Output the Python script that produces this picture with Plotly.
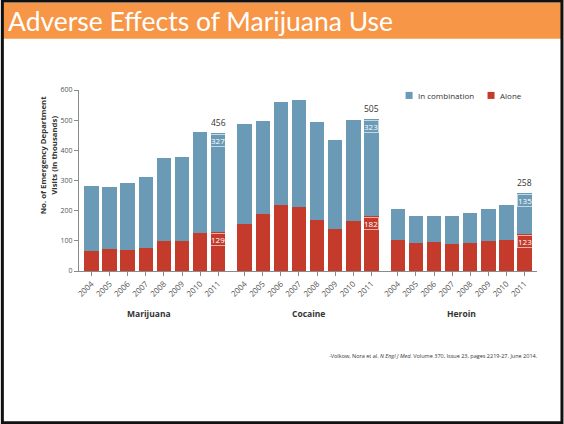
import plotly.graph_objects as go

# ---- data ----
groups = ["Marijuana", "Cocaine", "Heroin"]
years = ["2004", "2005", "2006", "2007", "2008", "2009", "2010", "2011"]
alone_marijuana = [66, 72, 68, 77, 101, 100, 127, 129]
comb_marijuana = [216, 208, 224, 233, 274, 278, 335, 327]
alone_cocaine = [157, 189, 219, 213, 168, 140, 166, 182]
comb_cocaine = [330, 307, 342, 354, 325, 293, 334, 323]
alone_heroin = [103, 94, 97, 89, 93, 98, 103, 123]
comb_heroin = [104, 87, 86, 92, 100, 108, 115, 135]

alone = [alone_marijuana, alone_cocaine, alone_heroin]
comb = [comb_marijuana, comb_cocaine, comb_heroin]

title_text = "Adverse Effects of Marijuana Use"
citation = ("-Volkow, Nora et al. <i>N Engl J Med.</i> Volume 370, Issue 23, "
            "pages 2219-27. June 2014.")

# ---- style ----
BLUE = "#6b9ab6"
RED = "#c43b2c"
ORANGE = "#f79646"
AXIS = "#8a8a8a"
TXT = "#333333"
FONT = "Open Sans"

W, H = 564, 424
L, R, T, B = 78.7, 27, 90.3, 153.3
PW, PH = W - L - R, H - T - B


def px2x(px):
    return (px - L) / PW


def px2y(py):
    return (H - B - py) / PH


GROUP_STEP = 8.46
xs, xl_alone, xl_comb, ticktext = [], [], [], []
for g in range(len(groups)):
    for i, yr in enumerate(years):
        xs.append(g * GROUP_STEP + i)
        xl_alone.append(alone[g][i])
        xl_comb.append(comb[g][i])
        ticktext.append(yr)

fig = go.Figure()
fig.add_trace(go.Bar(x=xs, y=xl_alone, marker_color=RED, width=0.8,
                     name="Alone", showlegend=False,
                     marker_line_width=0))
fig.add_trace(go.Bar(x=xs, y=xl_comb, marker_color=BLUE, width=0.8,
                     name="In combination", showlegend=False,
                     marker_line_width=0))

annotations = []
shapes = []


def ann(**kw):
    base = dict(showarrow=False, xanchor="center", yanchor="middle")
    base.update(kw)
    annotations.append(base)


# value labels on final year of each group
for g in range(len(groups)):
    xi = g * GROUP_STEP + len(years) - 1
    a = alone[g][-1]
    c = comb[g][-1]
    tot = a + c
    ann(x=xi, y=tot, xref="x", yref="y", text=str(tot),
        yanchor="bottom", yshift=3,
        font=dict(family=FONT, size=8.5, color=TXT))
    ann(x=xi, y=tot, xref="x", yref="y", text=str(c),
        yanchor="top", yshift=-1,
        font=dict(family=FONT, size=8, color="white"),
        bordercolor="rgba(255,255,255,0.6)", borderwidth=1, borderpad=0)
    ann(x=xi, y=a, xref="x", yref="y", text=str(a),
        yanchor="top", yshift=-1,
        font=dict(family=FONT, size=8, color="white"),
        bordercolor="rgba(255,255,255,0.6)", borderwidth=1, borderpad=0)
    # group label
    ann(x=g * GROUP_STEP + (len(years) - 1) / 2, y=px2y(313),
        xref="x", yref="paper", text="<b>%s</b>" % groups[g],
        xshift=-6 if g == 0 else 0,
        font=dict(family=FONT, size=8.5, color=TXT))

# y axis title
ann(x=px2x(48), y=px2y(155), xref="paper", yref="paper",
    text="<b>No. of Emergency Department<br>Visits (in thousands)</b>",
    textangle=-90, font=dict(family=FONT, size=7.8, color=TXT))

# citation
ann(x=px2x(540), y=px2y(355), xref="paper", yref="paper",
    text=citation, xanchor="right",
    font=dict(family=FONT, size=5.5, color=TXT))

# slide title
ann(x=px2x(6), y=px2y(21.5), xref="paper", yref="paper",
    text=title_text, xanchor="left",
    font=dict(family="Lato", size=26.5, color="white"))

# legend (manual)
for cx, col, label in [(409, BLUE, "In combination"), (491, RED, "Alone")]:
    shapes.append(dict(type="rect", xref="paper", yref="paper",
                       x0=px2x(cx - 3.5), x1=px2x(cx + 3.5),
                       y0=px2y(95.7 + 3.5), y1=px2y(95.7 - 3.5),
                       fillcolor=col, line_width=0))
    ann(x=px2x(cx + 7), y=px2y(95.7), xref="paper", yref="paper",
        text=label, xanchor="left",
        font=dict(family=FONT, size=8, color=TXT))

# slide decorations
shapes.insert(0, dict(type="rect", xref="paper", yref="paper",
                      x0=px2x(2), x1=px2x(562), y0=px2y(3.3), y1=px2y(39.3),
                      fillcolor=ORANGE, line_width=0, layer="below"))
shapes.append(dict(type="rect", xref="paper", yref="paper",
                   x0=px2x(2), x1=px2x(562), y0=px2y(1.5), y1=px2y(422),
                   line=dict(color="#111111", width=3), fillcolor="rgba(0,0,0,0)"))

fig.update_layout(
    width=W, height=H,
    margin=dict(l=L, r=R, t=T, b=B, pad=0),
    barmode="stack",
    paper_bgcolor="white", plot_bgcolor="white",
    showlegend=False,
    annotations=annotations,
    shapes=shapes,
    font=dict(family=FONT, color=TXT),
    xaxis=dict(range=[-0.69, 2 * GROUP_STEP + 7.69], tickmode="array",
               tickvals=xs, ticktext=ticktext, tickangle=-45,
               ticks="outside", ticklen=4, tickcolor=AXIS, showline=True,
               linecolor=AXIS, linewidth=1, showgrid=False, zeroline=False,
               tickfont=dict(family=FONT, size=8, color="#555555")),
    yaxis=dict(range=[0, 600], dtick=100, ticks="outside", ticklen=4,
               tickcolor=AXIS, showline=True, linecolor=AXIS, linewidth=1,
               showgrid=False, zeroline=False,
               tickfont=dict(family=FONT, size=7, color="#555555")),
)

fig.write_html("out.html")
